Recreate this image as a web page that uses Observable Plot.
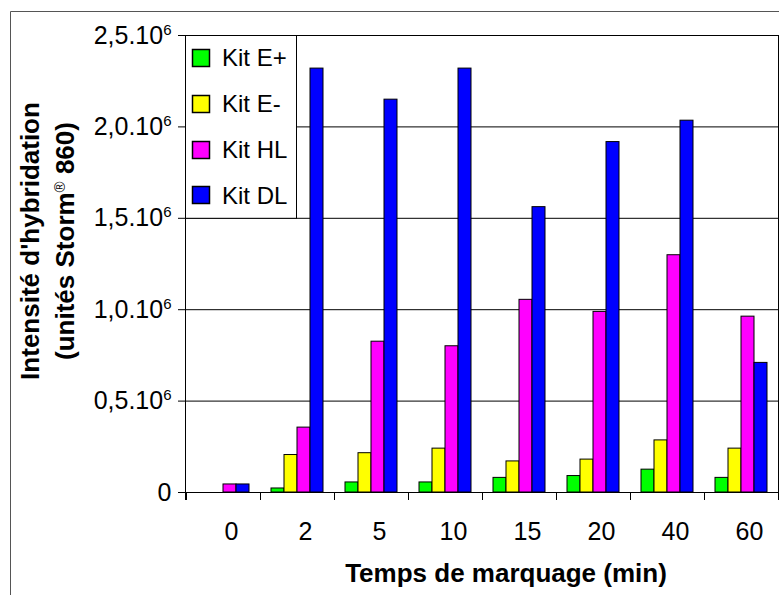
<!DOCTYPE html>
<html>
<head>
<meta charset="utf-8">
<script src="https://cdn.jsdelivr.net/npm/d3@7"></script>
<script src="https://cdn.jsdelivr.net/npm/@observablehq/plot@0.6"></script>
<style>
  html, body { margin: 0; padding: 0; background: #fff; }
  #chart { width: 779px; height: 595px; overflow: hidden; }
  #chart svg { display: block; }
</style>
</head>
<body>
<div id="chart"></div>
<script>
// ---- data (intensities in units of 10^6) ----
const times = ["0", "2", "5", "10", "15", "20", "40", "60"];
const kits = ["Kit E+", "Kit E-", "Kit HL", "Kit DL"];
const kitColors = ["#00ff00", "#ffff00", "#ff00ff", "#0000ff"];
const kitEplus  = [0,     0.022, 0.055, 0.055, 0.08,  0.09,  0.125, 0.08];
const kitEminus = [0,     0.205, 0.215, 0.24,  0.17,  0.18,  0.285, 0.24];
const kitHL     = [0.044, 0.355, 0.825, 0.80,  1.054, 0.988, 1.298, 0.962];
const kitDL     = [0.044, 2.319, 2.149, 2.319, 1.561, 1.917, 2.034, 0.709];
const yTicks = [0, 0.5, 1, 1.5, 2, 2.5];
const yTickLabels = ["0", "0,5.10", "1,0.10", "1,5.10", "2,0.10", "2,5.10"];
const yTickExp = ["", "6", "6", "6", "6", "6"];
const xTitle = "Temps de marquage (min)";
const yTitle1 = "Intensité d'hybridation";
const yTitle2a = "(unités Storm";
const yTitle2sup = "®";
const yTitle2b = " 860)";

const series = [kitEplus, kitEminus, kitHL, kitDL];
const data = [];
times.forEach((t, i) => {
  kits.forEach((k, j) => data.push({time: t, kit: k, value: series[j][i]}));
});

const FONT = "'Liberation Sans', Arial, sans-serif";

const plot = Plot.plot({
  width: 779,
  height: 595,
  marginLeft: 185,
  marginRight: 1,
  marginTop: 35,
  marginBottom: 103,
  style: {fontFamily: FONT, fontSize: "25px", background: "transparent", color: "#000", overflow: "visible"},
  fx: {domain: times, padding: 0, label: null},
  x: {domain: kits, paddingInner: 0, paddingOuter: 0.79, axis: null},
  y: {domain: [0, 2.5]},
  color: {domain: kits, range: kitColors},
  marks: [
    Plot.ruleY(yTicks.slice(1), {stroke: "#000", strokeWidth: 1}),
    Plot.barY(data, {fx: "time", x: "kit", y: "value", fill: "kit", stroke: "#000", strokeWidth: 1}),
    Plot.ruleY([0], {stroke: "#000", strokeWidth: 1}),
    Plot.axisFx({anchor: "bottom", tickSize: 0, tickPadding: 30, label: null, dx: 8, fontSize: 25}),
    Plot.axisY({ticks: yTicks, tickSize: 8, tickPadding: 7, label: null, fontSize: 25,
      tickFormat: d => yTickLabels[yTicks.indexOf(d)]})
  ]
});

document.getElementById("chart").appendChild(plot);

const svg = d3.select(plot);
const fx = plot.scale("fx");
const ys = plot.scale("y");
const color = plot.scale("color");
const y0 = ys.apply(0), yTop = ys.apply(2.5);
const left = fx.range[0], right = fx.range[1];

// outer chart frame (extends beyond the picture on right and bottom)
svg.insert("path", ":first-child")
  .attr("d", `M10.5,600V11.5H800`)
  .attr("fill", "none").attr("stroke", "#555").attr("stroke-width", 1);

// superscript exponents on the y tick labels
svg.selectAll('g[aria-label="y-axis tick label"] text').each(function() {
  const t = d3.select(this);
  const idx = yTickLabels.indexOf(t.text());
  if (idx >= 0 && yTickExp[idx]) {
    t.append("tspan").attr("dy", "-9").attr("font-size", "15px").text(yTickExp[idx]);
  }
});

const g = svg.append("g").attr("stroke", "#000").attr("stroke-width", 1);
// axis line and right border
g.append("line").attr("x1", left + 0.5).attr("x2", left + 0.5).attr("y1", yTop).attr("y2", y0 + 8);
g.append("line").attr("x1", right + 0.5).attr("x2", right + 0.5).attr("y1", yTop).attr("y2", y0 + 8);
// category boundary ticks
times.forEach(t => {
  const x = Math.round(fx.apply(t)) + 0.5;
  g.append("line").attr("x1", x).attr("x2", x).attr("y1", y0).attr("y2", y0 + 8);
});

// legend (inside plot area, from 2.5 down to 1.5)
const legTop = ys.apply(2.5), legBottom = ys.apply(1.5);
const leg = svg.append("g").attr("text-anchor", "start");
leg.append("rect")
  .attr("x", left + 0.5).attr("y", legTop + 0.5)
  .attr("width", 111).attr("height", legBottom - legTop)
  .attr("fill", "#fff").attr("stroke", "#000");
const step = (legBottom - legTop) / kits.length;
kits.forEach((k, i) => {
  const cy = legTop + step * (i + 0.5);
  leg.append("rect")
    .attr("x", left + 7.5).attr("y", Math.round(cy - 8.5) + 0.5)
    .attr("width", 17).attr("height", 17)
    .attr("fill", color.apply(k)).attr("stroke", "#000").attr("stroke-width", 1.5);
  leg.append("text")
    .attr("x", left + 37).attr("y", cy).attr("dy", "0.36em")
    .attr("text-anchor", "start")
    .attr("font-family", FONT).attr("font-size", 24).attr("fill", "#000")
    .text(k);
});

// x title
svg.append("text")
  .attr("x", 506).attr("y", 582)
  .attr("text-anchor", "middle")
  .attr("font-family", FONT).attr("font-size", 26).attr("font-weight", "bold")
  .attr("fill", "#000")
  .text(xTitle);

// y title, two lines
const yt = svg.append("g")
  .attr("font-family", FONT).attr("font-size", 26).attr("font-weight", "bold")
  .attr("fill", "#000").attr("text-anchor", "middle");
yt.append("text")
  .attr("transform", "translate(39,241) rotate(-90)")
  .text(yTitle1);
const l2 = yt.append("text")
  .attr("transform", "translate(74,241) rotate(-90)");
l2.append("tspan").text(yTitle2a);
l2.append("tspan").attr("dy", "-9").attr("font-size", 15).attr("font-weight", "normal").text(yTitle2sup);
l2.append("tspan").attr("dy", "9").text(yTitle2b);
</script>
</body>
</html>
